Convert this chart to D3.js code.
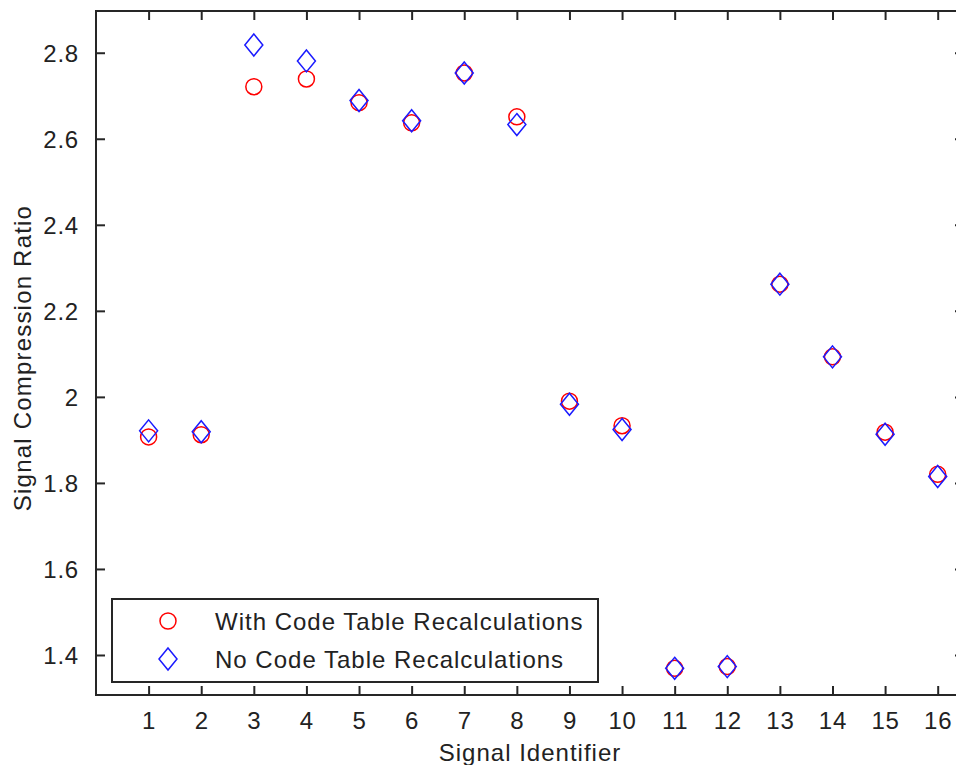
<!DOCTYPE html>
<html>
<head>
<meta charset="utf-8">
<script src="https://cdn.jsdelivr.net/npm/d3@7"></script>
<style>
  html, body { margin: 0; padding: 0; background: #fff; }
  svg { display: block; }
  text { font-family: "Liberation Sans", Arial, sans-serif; fill: #222; }
</style>
</head>
<body>
<svg id="chart" width="956" height="765"></svg>
<script>
const ids = [1, 2, 3, 4, 5, 6, 7, 8, 9, 10, 11, 12, 13, 14, 15, 16];
const withRecalc = [1.907, 1.912, 2.721, 2.739, 2.684, 2.637, 2.753, 2.651, 1.990, 1.933, 1.369, 1.373, 2.262, 2.093, 1.918, 1.820];
const noRecalc   = [1.921, 1.919, 2.818, 2.781, 2.689, 2.642, 2.753, 2.633, 1.983, 1.924, 1.369, 1.373, 2.262, 2.093, 1.913, 1.815];
const xTicks = [1, 2, 3, 4, 5, 6, 7, 8, 9, 10, 11, 12, 13, 14, 15, 16];
const yTicks = [1.4, 1.6, 1.8, 2.0, 2.2, 2.4, 2.6, 2.8];
const yTickLabels = ["1.4", "1.6", "1.8", "2", "2.2", "2.4", "2.6", "2.8"];
const seriesNames = ["With Code Table Recalculations", "No Code Table Recalculations"];
const xLabel = "Signal Identifier";
const yLabel = "Signal Compression Ratio";

const svg = d3.select("#chart");
const L = 96, T = 11, R = 964, B = 695;
const axisColor = "#262626";
const fontSize = 24;

const x = d3.scaleLinear().domain([0, 16.5]).range([L, R]);
const y = d3.scaleLinear().domain([1.307, 2.897]).range([B, T]);

const tickLen = 9;

// Bottom axis (ticks inward)
const gB = svg.append("g").attr("transform", `translate(0,${B})`)
  .call(d3.axisBottom(x).tickValues(xTicks).tickSizeInner(-tickLen).tickSizeOuter(0).tickPadding(20).tickFormat(d3.format("d")));
// Top axis
const gT = svg.append("g").attr("transform", `translate(0,${T})`)
  .call(d3.axisTop(x).tickValues(xTicks).tickSizeInner(-tickLen).tickSizeOuter(0).tickFormat(""));
// Left axis
const gL = svg.append("g").attr("transform", `translate(${L},0)`)
  .call(d3.axisLeft(y).tickValues(yTicks).tickSizeInner(-tickLen).tickSizeOuter(0).tickPadding(17)
    .tickFormat((d, i) => yTickLabels[i]));
// Right axis
const gR = svg.append("g").attr("transform", `translate(${R},0)`)
  .call(d3.axisRight(y).tickValues(yTicks).tickSizeInner(-tickLen).tickSizeOuter(0).tickFormat(""));

[gB, gT, gL, gR].forEach(g => {
  g.select(".domain").remove();
  g.selectAll(".tick line").attr("stroke", axisColor).attr("stroke-width", 2);
  g.selectAll(".tick text")
    .attr("font-family", '"Liberation Sans", Arial, sans-serif')
    .attr("font-size", fontSize)
    .attr("fill", "#222")
    .style("letter-spacing", "0.8px");
});
gB.selectAll(".tick text").attr("dy", "0.71em").attr("y", 17);
gL.selectAll(".tick text").attr("dy", "0.36em");

// Frame
svg.append("rect")
  .attr("x", L).attr("y", T).attr("width", R - L).attr("height", B - T)
  .attr("fill", "none").attr("stroke", axisColor).attr("stroke-width", 2);

// Markers
const circleR = 8;
const diamond = "M0,-11L9,0L0,11L-9,0Z";

svg.append("g").selectAll("circle").data(ids)
  .join("circle")
  .attr("cx", d => x(d))
  .attr("cy", (d, i) => y(withRecalc[i]))
  .attr("r", circleR)
  .attr("fill", "none").attr("stroke", "#ff0000").attr("stroke-width", 1.5);

svg.append("g").selectAll("path").data(ids)
  .join("path")
  .attr("d", diamond)
  .attr("transform", (d, i) => `translate(${x(d)},${y(noRecalc[i])})`)
  .attr("fill", "none").attr("stroke", "#1a1aff").attr("stroke-width", 1.5);

// Axis labels
svg.append("text")
  .attr("x", (L + R) / 2).attr("y", 761)
  .attr("text-anchor", "middle")
  .attr("font-size", fontSize)
  .style("letter-spacing", "1px")
  .text(xLabel);

svg.append("text")
  .attr("transform", `translate(31,358) rotate(-90)`)
  .attr("text-anchor", "middle")
  .attr("font-size", fontSize)
  .style("letter-spacing", "1.2px")
  .text(yLabel);

// Legend
const lg = svg.append("g");
lg.append("rect")
  .attr("x", 112).attr("y", 599).attr("width", 486).attr("height", 83)
  .attr("fill", "#fff").attr("stroke", axisColor).attr("stroke-width", 2);
lg.append("circle")
  .attr("cx", 168).attr("cy", 621).attr("r", circleR)
  .attr("fill", "none").attr("stroke", "#ff0000").attr("stroke-width", 1.5);
lg.append("path")
  .attr("d", diamond).attr("transform", "translate(168,659)")
  .attr("fill", "none").attr("stroke", "#1a1aff").attr("stroke-width", 1.5);
seriesNames.forEach((name, i) => {
  lg.append("text")
    .attr("x", 215).attr("y", [621, 659][i])
    .attr("dy", "0.36em")
    .attr("font-size", fontSize)
    .style("letter-spacing", "1px")
    .text(name);
});
</script>
</body>
</html>
